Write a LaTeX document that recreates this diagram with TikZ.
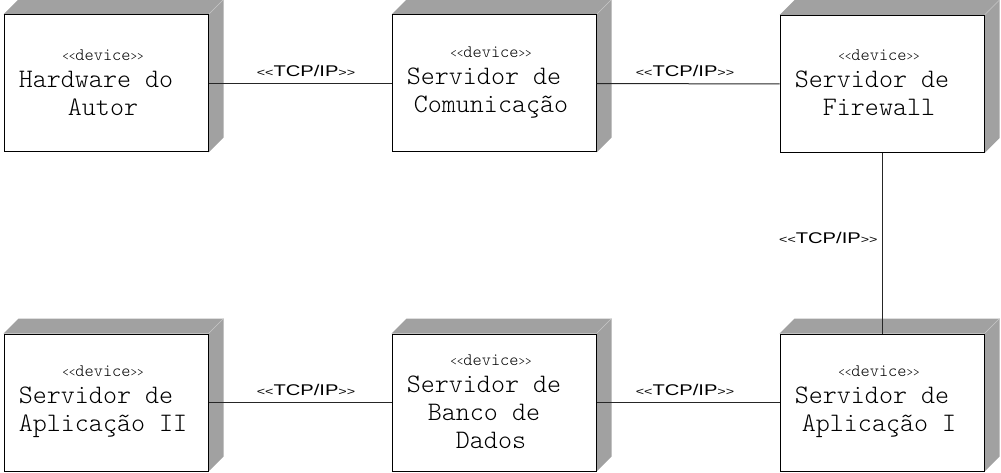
\documentclass[tikz,border=0pt]{standalone}
\usepackage{fontspec}
\usetikzlibrary{backgrounds}
\setmonofont{Latin Modern Mono Light}
\newfontfamily\lblfnt[FakeStretch=1.3]{Liberation Sans}
\newcommand\stereo{{\fontsize{12.5}{12.5}\selectfont<<}{\fontsize{17.5}{17.5}\selectfont device}{\fontsize{12.5}{12.5}\selectfont>>}}
\newcommand\tcpip{{\fontsize{11}{11}\selectfont<<}TCP/IP{\fontsize{11}{11}\selectfont>>}}
\tikzset{
  devbox/.style={draw=black, line width=1pt, fill=white, inner sep=0pt,
    minimum width=204pt, minimum height=137pt},
  boxshade/.style={fill=black!37, draw=none},
  conn/.style={draw=black!85, line width=1pt},
  proto/.style={font=\lblfnt\fontsize{15.5}{18}\selectfont, inner sep=0pt},
  devtext/.style={align=center, font=\ttfamily\fontsize{26.7}{28}\selectfont, inner sep=0pt}
}
\begin{document}
\begin{tikzpicture}[x=1pt,y=-1pt]
\useasboundingbox (0,0) rectangle (1001,473);
% boxes
\node[devbox] (b1) at (106,83.5) {};
\node[devbox] (b2) at (494,83.5) {};
\node[devbox] (b3) at (882,84) {};
\node[devbox] (b4) at (106,402.5) {};
\node[devbox] (b5) at (494,402.5) {};
\node[devbox] (b6) at (882,402.5) {};
\begin{pgfonlayer}{background}
\foreach \b in {b1,b2,b3,b4,b5,b6}{
  \fill[boxshade] (\b.north west) -- ++(15,-15) -- ([shift={(15,-15)}]\b.north east)
      -- ([shift={(15,-15)}]\b.south east) -- (\b.south east) -- (\b.north east) -- cycle;
  \draw[black!22, line width=0.6pt] (\b.north east) -- ++(15,-15);
}
\end{pgfonlayer}
% texts
\node[devtext] (t1) at ([xshift=-3pt,yshift=1pt]b1.center) {\stereo\\[-1pt]Hardware do\hphantom{x}\\Autor};
\node[devtext] (t2) at ([xshift=-3pt,yshift=1pt]b2.center) {\stereo\\[-1pt]Servidor de\hphantom{x}\\Comunicação};
\node[devtext] (t3) at ([xshift=-3pt,yshift=1pt]b3.center) {\stereo\\[-1pt]Servidor de\hphantom{x}\\Firewall};
\node[devtext] (t4) at ([xshift=-3pt,yshift=1pt]b4.center) {\stereo\\[-1pt]Servidor de\hphantom{x}\\Aplicação II};
\node[devtext] (t5) at ([xshift=-3pt,yshift=1pt]b5.center) {\stereo\\[-1pt]Servidor de\hphantom{x}\\Banco de\hphantom{x}\\Dados};
\node[devtext] (t6) at ([xshift=-3pt,yshift=1pt]b6.center) {\stereo\\[-1pt]Servidor de\hphantom{x}\\Aplicação I};
% connectors
\draw[conn] (b1.east) -- node[proto, anchor=base, xshift=6pt, yshift=7.3pt] (l1) {\tcpip} (b2.west);
\draw[conn] (b2.east) -- node[proto, anchor=base, xshift=-3pt, yshift=7.3pt] (l2) {\tcpip} (b3.west);
\draw[conn] (b3.south) -- node[proto, anchor=base east, xshift=-4pt, yshift=0pt] (l3) {\tcpip} (b6.north);
\draw[conn] (b4.east) -- node[proto, anchor=base, xshift=6pt, yshift=7.3pt] (l4) {\tcpip} (b5.west);
\draw[conn] (b5.east) -- node[proto, anchor=base, xshift=-3pt, yshift=7.3pt] (l5) {\tcpip} (b6.west);
\end{tikzpicture}
\end{document}
